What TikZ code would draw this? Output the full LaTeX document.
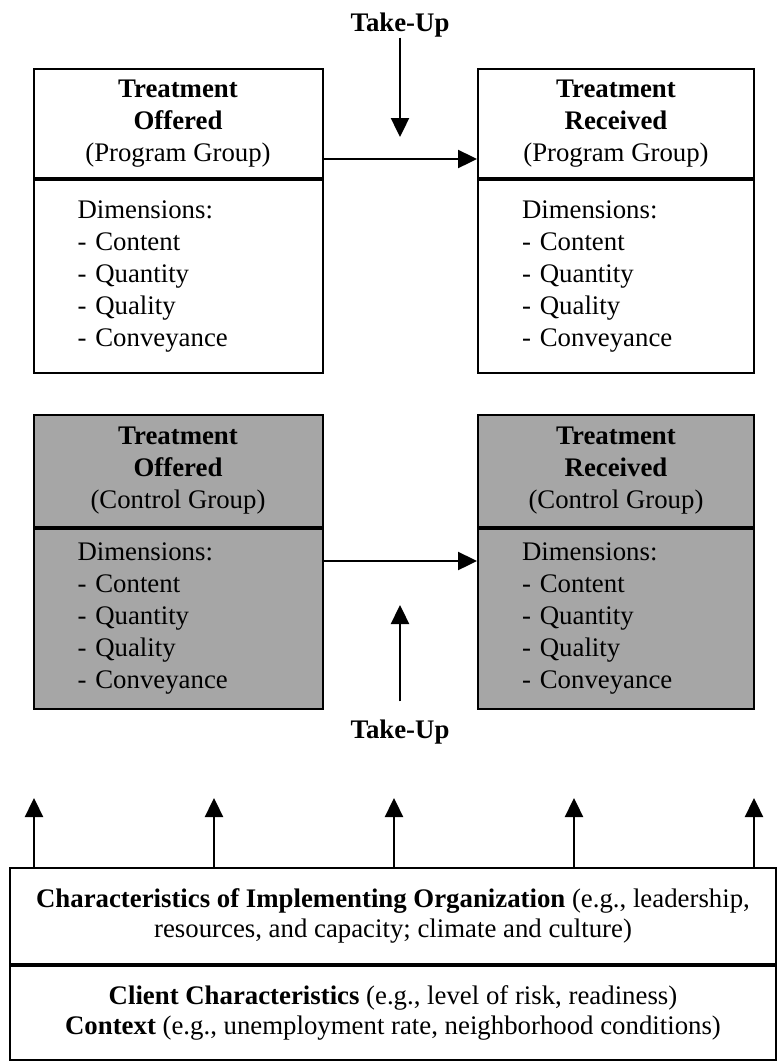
\documentclass[tikz,border=0pt]{standalone}
\usepackage{fontspec}
\setmainfont{Liberation Serif}
\usetikzlibrary{arrows.meta}
\definecolor{ctrlgray}{RGB}{166,166,166}
\newcommand{\dimlist}{Dimensions:\\- Content\\- Quantity\\- Quality\\- Conveyance}
\tikzset{
    headbox/.style={draw, line width=1pt, minimum width=#1, inner sep=0pt, align=center,
        font=\fontsize{13.4}{16}\selectfont},
    dimbox/.style={draw, line width=1pt, text width=#1, inner xsep=22pt, inner ysep=0pt,
        align=left, font=\fontsize{13.4}{16}\selectfont},
    envbox/.style={draw, line width=1pt, minimum width=383pt, inner sep=0pt, align=center,
        font=\fontsize{13.4}{15.3}\selectfont},
    flow/.style={-{Triangle[width=9pt,length=9.5pt]}, line width=1.2pt},
    takeup/.style={font=\fontsize{13.4}{16}\selectfont\bfseries, inner sep=0pt}
}
\begin{document}
\begin{tikzpicture}[x=0.5pt,y=-0.5pt]
    \useasboundingbox (0,0) rectangle (777,1061);

    % Program group
    \node[headbox=144.5pt, minimum height=54.5pt] (pOffHead) at (178,123.5)
        {\textbf{Treatment}\\\textbf{Offered}\\(Program Group)};
    \node[dimbox=100.5pt, minimum height=96.5pt, anchor=north] (pOffDim) at (pOffHead.south) {\dimlist};
    \node[headbox=138pt, minimum height=54.5pt] (pRecHead) at (616,123.5)
        {\textbf{Treatment}\\\textbf{Received}\\(Program Group)};
    \node[dimbox=94pt, minimum height=96.5pt, anchor=north] (pRecDim) at (pRecHead.south) {\dimlist};

    % Control group
    \node[headbox=144.5pt, minimum height=56pt, fill=ctrlgray] (cOffHead) at (178,471)
        {\textbf{Treatment}\\\textbf{Offered}\\(Control Group)};
    \node[dimbox=100.5pt, minimum height=90pt, fill=ctrlgray, anchor=north] (cOffDim) at (cOffHead.south) {\dimlist};
    \node[headbox=138pt, minimum height=56pt, fill=ctrlgray] (cRecHead) at (616,471)
        {\textbf{Treatment}\\\textbf{Received}\\(Control Group)};
    \node[dimbox=94pt, minimum height=90pt, fill=ctrlgray, anchor=north] (cRecDim) at (cRecHead.south) {\dimlist};

    % Offered -> received
    \draw[flow] ([yshift=-17.75pt]pOffHead.east) -- ([yshift=-17.75pt]pRecHead.west);
    \draw[flow] ([yshift=29pt]cOffDim.east) -- ([yshift=29pt]cRecDim.west);

    % Take-up
    \node[takeup] (tuTop) at (400,25) {Take-Up};
    \coordinate (tuTopTip) at (400,137);
    \draw[flow] (tuTop) -- (tuTopTip);
    \node[takeup] (tuBot) at (400,732) {Take-Up};
    \coordinate (tuBotTip) at (400,605);
    \draw[flow, shorten <=9pt] (tuBot) -- (tuBotTip);

    % Organization, client and context
    \node[envbox, minimum height=48pt] (orgBox) at (393,916)
        {\textbf{Characteristics of Implementing Organization} (e.g., leadership,\\
         resources, and capacity; climate and culture)};
    \node[envbox, minimum height=47pt, anchor=north] (clientBox) at (orgBox.south)
        {\textbf{Client Characteristics} (e.g., level of risk, readiness)\\
         \textbf{Context} (e.g., unemployment rate, neighborhood conditions)};

    \foreach \x [count=\i] in {34,214,394,574,754} {
        \coordinate (up\i) at (\x,798);
        \draw[flow] (up\i |- orgBox.north) -- (up\i);
    }
\end{tikzpicture}
\end{document}
